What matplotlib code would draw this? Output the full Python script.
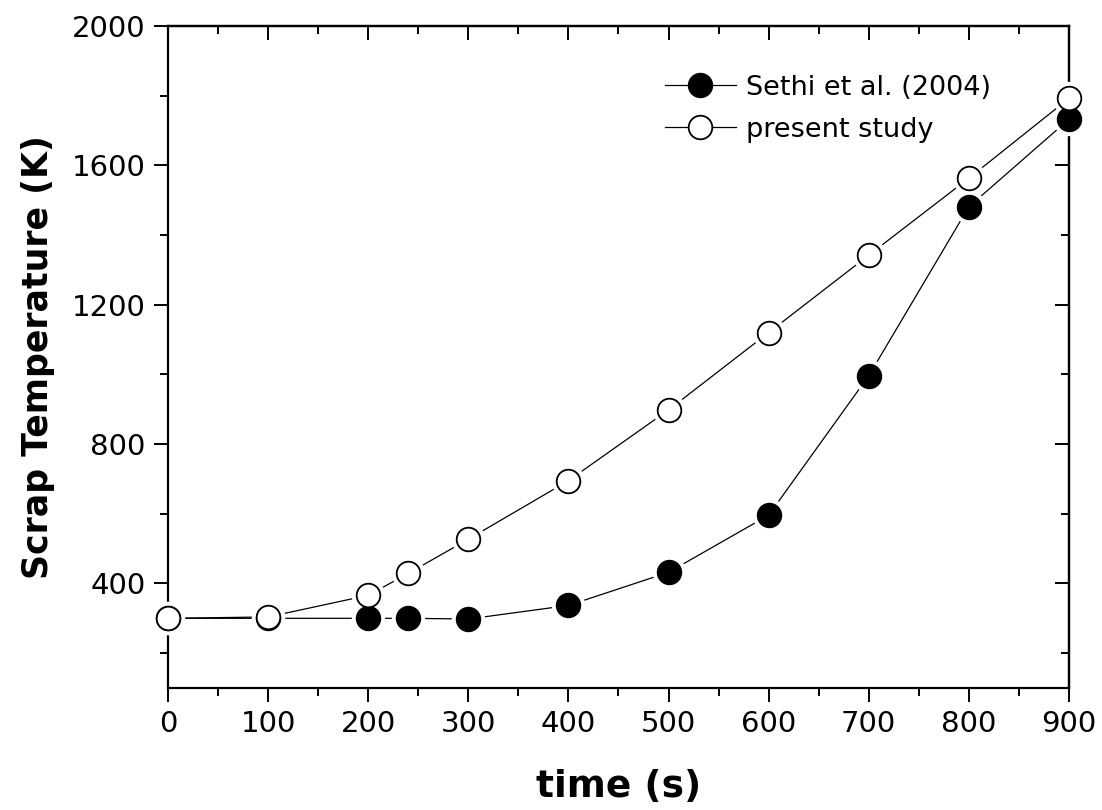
import numpy as np
import matplotlib.pyplot as plt
from matplotlib.ticker import MultipleLocator

# scrap temperature vs time
time_s = [0, 100, 200, 240, 300, 400, 500, 600, 700, 800, 900]
sethi_K = [300, 300, 300, 300, 298, 337, 432, 596, 996, 1481, 1732]
present_K = [300, 304, 366, 429, 527, 695, 898, 1120, 1342, 1563, 1792]

plt.rcParams['font.family'] = 'DejaVu Sans'

fig = plt.figure(figsize=(11.02, 8.10), dpi=100)
ax = fig.add_axes([0.1525, 0.1506, 0.8175, 0.8174])

MS = 17

def series(y, face, label):
    # thin line, then a white halo so the line stops short of each marker
    ax.plot(time_s, y, '-', color='black', lw=0.9, zorder=2)
    ax.plot(time_s, y, 'o', ms=MS + 6, mfc='white', mec='white', zorder=3, clip_on=False)
    ax.plot(time_s, y, 'o', ms=MS, mfc=face, mec='black', mew=1.3, zorder=4,
            clip_on=False)
    # legend proxy
    ax.plot([], [], '-o', color='black', lw=0.9, ms=MS, mfc=face, mec='black',
            mew=1.3, label=label)

series(sethi_K, 'black', 'Sethi et al. (2004)')
series(present_K, 'white', 'present study')

ax.set_xlim(0, 900)
ax.set_ylim(100, 2000)
ax.xaxis.set_major_locator(MultipleLocator(100))
ax.xaxis.set_minor_locator(MultipleLocator(50))
ax.set_yticks([400, 800, 1200, 1600, 2000])
ax.yaxis.set_minor_locator(MultipleLocator(200))

for s in ax.spines.values():
    s.set_linewidth(1.6)

ax.tick_params(which='both', direction='out', width=1.4, labelsize=21, pad=6)
ax.tick_params(which='major', length=10)
ax.tick_params(which='minor', length=6)

# top and right ticks point inward, no labels
top = ax.secondary_xaxis('top')
top.xaxis.set_major_locator(MultipleLocator(100))
top.xaxis.set_minor_locator(MultipleLocator(50))
right = ax.secondary_yaxis('right')
right.set_yticks([400, 800, 1200, 1600, 2000])
right.yaxis.set_minor_locator(MultipleLocator(200))
for sec in (top, right):
    sec.tick_params(which='both', direction='in', width=1.4, labelsize=0)
    sec.tick_params(which='major', length=10)
    sec.tick_params(which='minor', length=6)
    for s in sec.spines.values():
        s.set_linewidth(1.6)
top.set_xticklabels([])
right.set_yticklabels([])

ax.set_xlabel('time (s)', fontsize=27, fontweight='bold', labelpad=22)
ax.set_ylabel('Scrap Temperature (K)', fontsize=25, fontweight='bold', labelpad=12)

leg = ax.legend(loc='upper right', bbox_to_anchor=(0.935, 0.955), frameon=False,
                fontsize=19.5, handlelength=2.6, handletextpad=0.4, labelspacing=0.6,
                borderaxespad=0.3)

fig.savefig('out.png', dpi=100)
